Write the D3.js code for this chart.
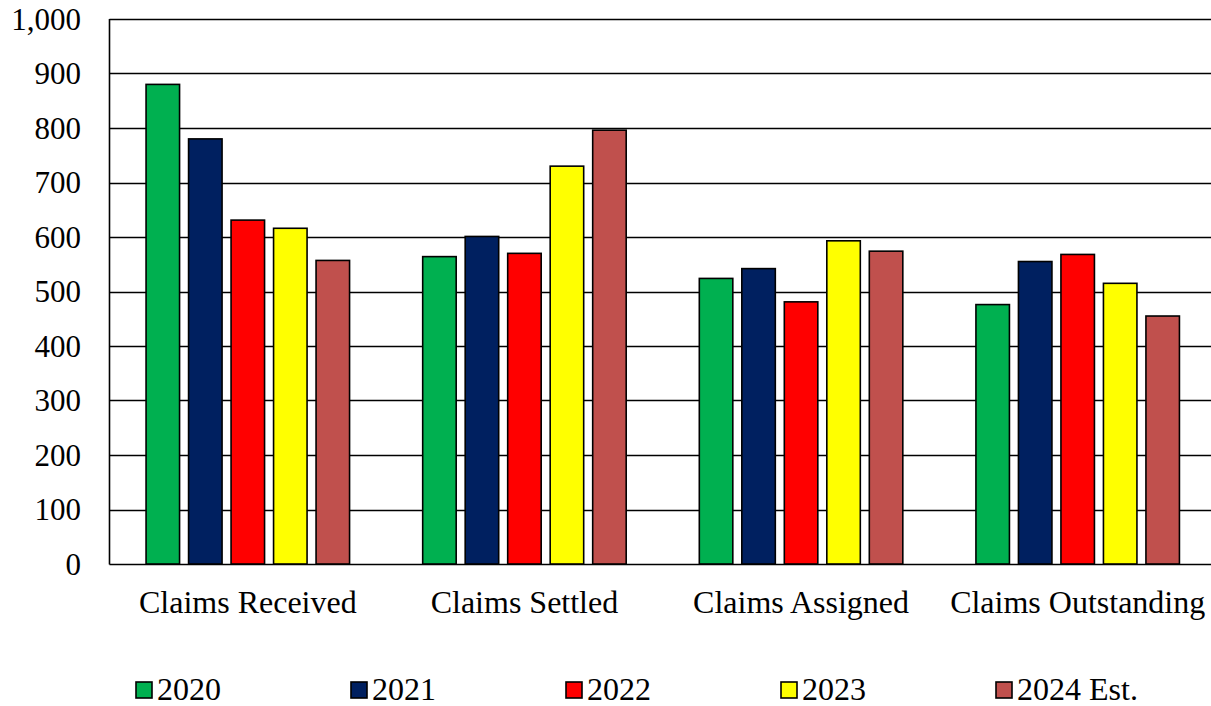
<!DOCTYPE html>
<meta charset="utf-8">
<style>
body { margin: 0; background: #fff; }
svg text { font-family: "Liberation Serif", "Times New Roman", serif; fill: #000; }
.grid line { stroke: #000; stroke-width: 1.6px; }
.bars rect { stroke: #000; stroke-width: 1.6px; }
</style>
<svg width="1211" height="706"></svg>
<script src="https://cdn.jsdelivr.net/npm/d3@7"></script>
<script>

// data
var categories = ["Claims Received", "Claims Settled", "Claims Assigned", "Claims Outstanding"]
var years = ["2020", "2021", "2022", "2023", "2024 Est."]
var colours = ["#00B050", "#002060", "#FF0000", "#FFFF00", "#C0504D"]

var v2020 = [880, 564, 524, 476]
var v2021 = [780, 601, 542, 555]
var v2022 = [631, 570, 481, 568]
var v2023 = [616, 730, 593, 515]
var v2024 = [557, 796, 574, 455]
var series = [v2020, v2021, v2022, v2023, v2024]

var yTicks = [0, 100, 200, 300, 400, 500, 600, 700, 800, 900, 1000]

var svg = d3.select("svg")

// plot area runs a little past the right edge of the picture
var plotLeft = 109.5, plotRight = 1216, plotTop = 19, plotBottom = 564

var x = d3.scaleBand()
	.domain(categories)
	.range([plotLeft, plotRight])

var y = d3.scaleLinear()
	.domain([0, 1000])
	.range([plotBottom, plotTop])

// five bars, 33.5 wide with 9 px between them
var groupWidth = 42.5 * 4 + 33.5
var inner = d3.scaleBand()
	.domain(years)
	.range([0, groupWidth])
	.paddingInner(9 / 42.5)
	.paddingOuter(0)

// gridlines
var grid = svg.append("g").attr("class", "grid")
grid.selectAll("line")
	.data(yTicks)
	.enter().append("line")
	.attr("x1", plotLeft)
	.attr("x2", plotRight)
	.attr("y1", function (d) { return Math.round(y(d)) + 0.5 })
	.attr("y2", function (d) { return Math.round(y(d)) + 0.5 })

// left axis line
svg.append("line")
	.attr("x1", plotLeft).attr("x2", plotLeft)
	.attr("y1", plotTop).attr("y2", plotBottom + 0.5)
	.attr("stroke", "#000").attr("stroke-width", 1.6)

// y labels
svg.append("g").selectAll("text")
	.data(yTicks)
	.enter().append("text")
	.attr("x", 81)
	.attr("y", function (d) { return y(d) })
	.attr("dy", "0.34em")
	.attr("text-anchor", "end")
	.style("font-size", "31px")
	.text(function (d) { return d3.format(",")(d) })

// bars
var bars = svg.append("g").attr("class", "bars")
var group = bars.selectAll("g")
	.data(categories)
	.enter().append("g")
	.attr("transform", function (c) {
		return "translate(" + (x(c) + x.bandwidth() / 2 - groupWidth / 2) + ",0)"
	})

group.selectAll("rect")
	.data(function (c, i) {
		return years.map(function (yr, j) { return { year: yr, value: series[j][i], colour: colours[j] } })
	})
	.enter().append("rect")
	.attr("x", function (d) { return inner(d.year) })
	.attr("width", inner.bandwidth())
	.attr("y", function (d) { return y(d.value) })
	.attr("height", function (d) { return plotBottom - y(d.value) })
	.attr("fill", function (d) { return d.colour })

// category labels
svg.append("g").selectAll("text")
	.data(categories)
	.enter().append("text")
	.attr("x", function (c) { return x(c) + x.bandwidth() / 2 })
	.attr("y", 613)
	.attr("text-anchor", "middle")
	.style("font-size", "32px")
	.text(function (c) { return c })

// legend
var legend = svg.append("g").selectAll("g")
	.data(years)
	.enter().append("g")
	.attr("transform", function (d, i) { return "translate(" + (136 + i * 215) + ",682)" })

legend.append("rect")
	.attr("width", 16)
	.attr("height", 16)
	.attr("fill", function (d, i) { return colours[i] })
	.attr("stroke", "#000")
	.attr("stroke-width", 1.6)

legend.append("text")
	.attr("x", 21)
	.attr("y", 18)
	.style("font-size", "32px")
	.text(function (d) { return d })

</script>
